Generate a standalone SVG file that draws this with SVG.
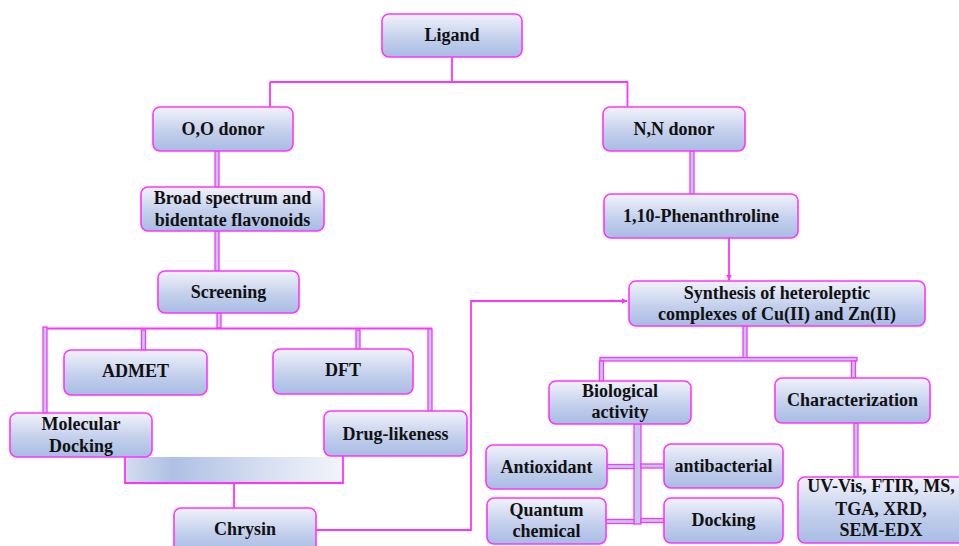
<svg xmlns="http://www.w3.org/2000/svg" width="959" height="546" viewBox="0 0 959 546">
<defs>
<linearGradient id="boxg" x1="0" y1="0" x2="0" y2="1">
<stop offset="0" stop-color="#f1f3fb"/>
<stop offset="0.55" stop-color="#c4d0ec"/>
<stop offset="1" stop-color="#a7bce3"/>
</linearGradient>
<linearGradient id="barg" x1="0" y1="0" x2="1" y2="0">
<stop offset="0" stop-color="#d5ddf0"/>
<stop offset="0.22" stop-color="#adc0e4"/>
<stop offset="0.6" stop-color="#d3dcf0"/>
<stop offset="1" stop-color="#f2f4fa"/>
</linearGradient>
<marker id="arr" viewBox="0 0 10 10" refX="9" refY="5" markerWidth="6" markerHeight="6" markerUnits="userSpaceOnUse" orient="auto">
<path d="M0,0 L10,5 L0,10 z" fill="#ff33ff"/>
</marker>
</defs>
<style>
.box{fill:url(#boxg);stroke:#ff33ff;stroke-width:1.6}
.t{font-family:"Liberation Serif","Times New Roman",serif;font-weight:bold;font-size:18px;fill:#111;text-anchor:middle}
.ln{stroke:#ff33ff;stroke-width:1.8;fill:none}
.dl{fill:#bfcae8;stroke:#ff33ff;stroke-width:1.3}
</style>
<g id="connectors">
<path class="ln" d="M452,57 V82 M270,82 H628 M270,82 V107 M627.5,82 V107"/>
<rect class="dl" x="215" y="151" width="4" height="36"/>
<rect class="dl" x="215" y="231" width="4" height="40"/>
<rect class="dl" x="217" y="313" width="4" height="15"/>
<path class="ln" d="M44,328.5 H432"/>
<rect class="dl" x="43" y="327" width="4" height="86"/>
<rect class="dl" x="141.5" y="330" width="4" height="20"/>
<rect class="dl" x="356" y="330" width="4" height="19"/>
<rect class="dl" x="428" y="329" width="4" height="82"/>
<rect x="125" y="457" width="218" height="26" fill="url(#barg)"/>
<path class="ln" d="M125,457 V483 H343 V456"/>
<path class="ln" d="M234,483 V508"/>
<path class="ln" d="M316,530 H471 V301 H627" marker-end="url(#arr)"/>
<rect class="dl" x="690" y="151" width="4" height="43"/>
<path class="ln" d="M729,238 V280" marker-end="url(#arr)"/>
<rect class="dl" x="743" y="326" width="4" height="32"/>
<rect class="dl" x="600" y="357.5" width="257" height="3.5"/>
<rect class="dl" x="599.5" y="361" width="4" height="20"/>
<rect class="dl" x="851.5" y="361" width="4" height="17"/>
<rect class="dl" x="634" y="424" width="7" height="100"/>
<rect class="dl" x="607" y="464.5" width="27" height="4"/>
<rect class="dl" x="641" y="464" width="23" height="4"/>
<rect class="dl" x="606" y="519.5" width="28" height="4"/>
<rect class="dl" x="641" y="518.5" width="23" height="4"/>
<rect class="dl" x="854" y="423" width="4" height="54"/>
</g>
<g id="ligand"><rect class="box" x="382" y="14" width="140" height="43" rx="7"/><text class="t" x="452" y="41">Ligand</text></g>
<g id="oo-donor"><rect class="box" x="153" y="107" width="140" height="44" rx="7"/><text class="t" x="223" y="135">O,O donor</text></g>
<g id="nn-donor"><rect class="box" x="603" y="107" width="142" height="44" rx="7"/><text class="t" x="674" y="135">N,N donor</text></g>
<g id="broad"><rect class="box" x="141" y="187" width="183" height="44" rx="7"/><text class="t" x="232.5" y="203.5">Broad spectrum and</text><text class="t" x="232.5" y="225.5">bidentate flavonoids</text></g>
<g id="screening"><rect class="box" x="158" y="271" width="141" height="42" rx="7"/><text class="t" x="228.5" y="297.5">Screening</text></g>
<g id="admet"><rect class="box" x="64" y="350" width="143" height="45" rx="7"/><text class="t" x="135.5" y="377">ADMET</text></g>
<g id="dft"><rect class="box" x="273" y="349" width="140" height="45" rx="7"/><text class="t" x="343" y="376">DFT</text></g>
<g id="molecular-docking"><rect class="box" x="10" y="413" width="142" height="44" rx="7"/><text class="t" x="81" y="430">Molecular</text><text class="t" x="81" y="451.5">Docking</text></g>
<g id="drug-likeness"><rect class="box" x="324" y="411" width="143" height="45" rx="7"/><text class="t" x="395.5" y="440">Drug-likeness</text></g>
<g id="chrysin"><rect class="box" x="174" y="508" width="142" height="44" rx="7"/><text class="t" x="245" y="535">Chrysin</text></g>
<g id="phenanthroline"><rect class="box" x="604" y="194" width="194" height="44" rx="7"/><text class="t" x="701" y="221.5">1,10-Phenanthroline</text></g>
<g id="synthesis"><rect class="box" x="629" y="281" width="296" height="45" rx="7"/><text class="t" x="777" y="298.5">Synthesis of heteroleptic</text><text class="t" x="777" y="320">complexes of Cu(II) and Zn(II)</text></g>
<g id="biological"><rect class="box" x="549" y="381" width="142" height="43" rx="7"/><text class="t" x="620" y="397">Biological</text><text class="t" x="620" y="417.5">activity</text></g>
<g id="characterization"><rect class="box" x="775" y="378" width="155" height="45" rx="7"/><text class="t" x="852.5" y="405.5">Characterization</text></g>
<g id="antioxidant"><rect class="box" x="486" y="445" width="121" height="44" rx="7"/><text class="t" x="546.5" y="473">Antioxidant</text></g>
<g id="antibacterial"><rect class="box" x="664" y="444" width="119" height="44" rx="7"/><text class="t" x="723.5" y="472">antibacterial</text></g>
<g id="quantum"><rect class="box" x="487" y="498" width="119" height="46" rx="7"/><text class="t" x="546.5" y="515.5">Quantum</text><text class="t" x="546.5" y="537">chemical</text></g>
<g id="docking"><rect class="box" x="664" y="498" width="119" height="45" rx="7"/><text class="t" x="723.5" y="526">Docking</text></g>
<g id="techniques"><rect class="box" x="798" y="477" width="167" height="66" rx="7"/><text class="t" x="881" y="492">UV-Vis, FTIR, MS,</text><text class="t" x="881" y="515">TGA, XRD,</text><text class="t" x="881" y="536">SEM-EDX</text></g>
</svg>
